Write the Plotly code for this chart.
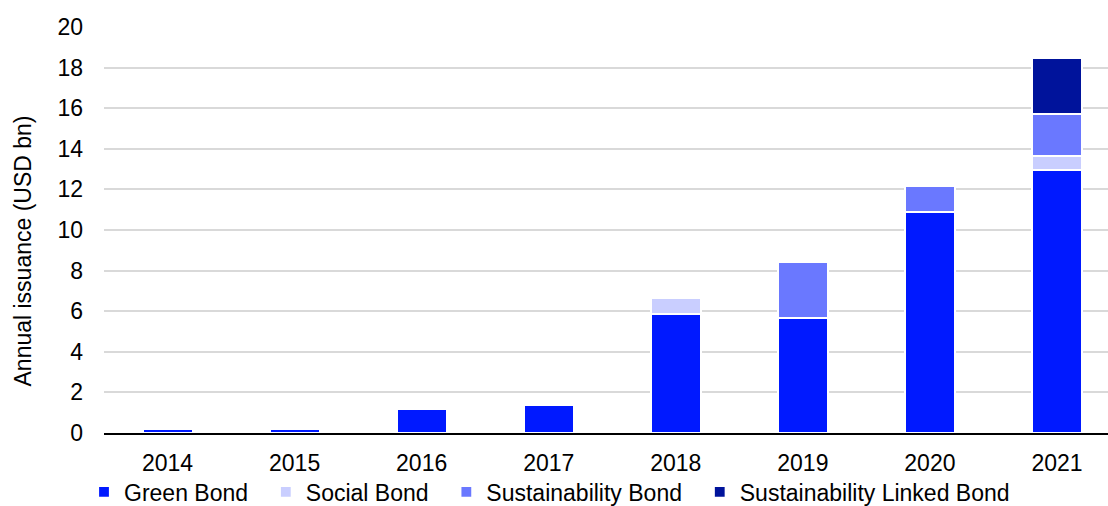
import plotly.graph_objects as go

years = ["2014", "2015", "2016", "2017", "2018", "2019", "2020", "2021"]
green = [0.2, 0.18, 1.2, 1.36, 5.85, 5.65, 10.87, 12.95]
social = [0, 0, 0, 0, 0.8, 0, 0, 0.68]
sustainability = [0, 0, 0, 0, 0, 2.8, 1.3, 2.08]
linked = [0, 0, 0, 0, 0, 0, 0, 2.75]

series = [
    ("Green Bond", green, "#0019FF"),
    ("Social Bond", social, "#C9CEFF"),
    ("Sustainability Bond", sustainability, "#6A78FF"),
    ("Sustainability Linked Bond", linked, "#00139B"),
]

FONT = "Liberation Sans, Arial, sans-serif"
PAD = "\u00a0\u00a0"
xpos = list(range(len(years)))

fig = go.Figure()
for i, (name, vals, color) in enumerate(series):
    fig.add_trace(go.Bar(
        x=xpos, y=vals, name=name + (PAD if i < len(series) - 1 else ""), width=0.395,
        marker=dict(color=color, line=dict(color="white", width=2.2)),
    ))

fig.update_layout(
    width=1108, height=506,
    barmode="stack",
    paper_bgcolor="white", plot_bgcolor="white",
    margin=dict(l=104, r=0, t=27, b=73, autoexpand=False),
    font=dict(family=FONT, size=23, color="#000000"),
    showlegend=True,
    legend=dict(orientation="h", x=84 / 1108, xanchor="left", xref="container",
                y=14 / 506, yanchor="middle", yref="container",
                bgcolor="rgba(0,0,0,0)",
                font=dict(size=23), traceorder="normal", itemwidth=30),
    xaxis=dict(
        range=[-0.5, 7.5 - 12.5 / 127], tickmode="array", tickvals=xpos, ticktext=years,
        showgrid=False, showline=True, linecolor="#000000", linewidth=2,
        ticks="", ticklabelstandoff=8, zeroline=False, fixedrange=True,
        tickfont=dict(size=23), automargin=False,
    ),
    yaxis=dict(
        range=[0, 20], dtick=2, showgrid=True, gridcolor="#D9D9D9", gridwidth=1.5,
        zeroline=False, showline=False, ticks="", ticklabelstandoff=20,
        tickfont=dict(size=23), automargin=False,
    ),
    annotations=[dict(
        text="Annual issuance (USD bn)", textangle=-90, showarrow=False,
        xref="paper", yref="paper", x=(22 - 104) / 1004, y=(433 - 251.5) / 406,
        xanchor="center", yanchor="middle", font=dict(size=23),
    )],
)

fig.write_html("out.html")
